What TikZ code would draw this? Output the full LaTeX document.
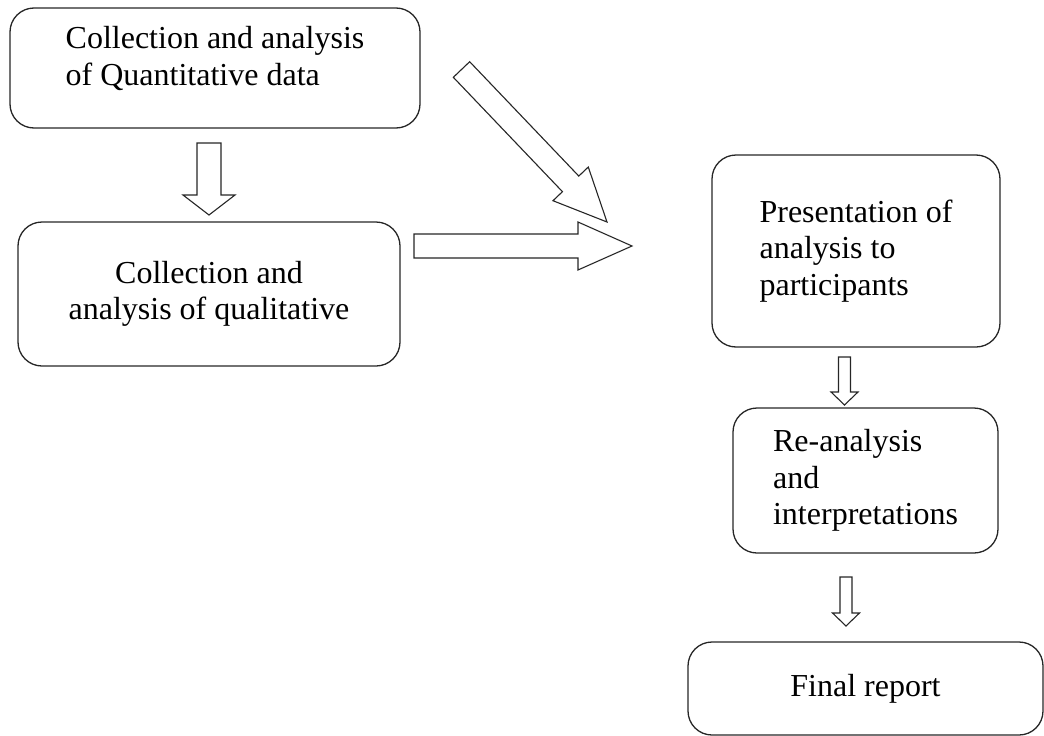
\documentclass[tikz,border=0pt]{standalone}
\usepackage{fontspec}
\setmainfont{Liberation Serif}
\usetikzlibrary{calc}

% block arrow: tail, tip, shaft half width, head half width, head length
\newcommand{\fatarrow}[5]{%
  \coordinate (hb) at ($(#2)!#5!(#1)$);
  \draw[block arrow] ($(#1)!#3!90:(#2)$) -- ($(hb)!#3!90:(#2)$)
    -- ($(hb)!#4!90:(#2)$) -- (#2) -- ($(hb)!#4!-90:(#2)$)
    -- ($(hb)!#3!-90:(#2)$) -- ($(#1)!#3!-90:(#2)$) -- cycle;
}

\begin{document}
\begin{tikzpicture}[x=1pt,y=-1pt,
	box/.style={draw=black!85,line width=1.3pt,rounded corners=24pt,
		font=\fontsize{32}{36.5}\selectfont,inner sep=0pt},
	block arrow/.style={draw=black!85,line width=1.1pt,fill=white,line join=miter}]
	
	\useasboundingbox (0,0) rectangle (1044,736);
	
	\node[box,minimum width=410,minimum height=120,align=left,text depth=24pt]
		(quant) at (215,68) {Collection and analysis\\of Quantitative data};
	\node[box,minimum width=382,minimum height=144,align=center]
		(qual) at (209,294) {Collection and\\analysis of qualitative};
	\node[box,minimum width=288,minimum height=192,align=left]
		(present) at (856,251) {Presentation of\\analysis to\\participants};
	\node[box,minimum width=265,minimum height=145,align=left]
		(reanal) at (865.5,480.5) {Re-analysis\\and\\interpretations};
	\node[box,minimum width=355,minimum height=93]
		(final) at (865.5,688.5) {Final report};
	
	% arrow ends
	\coordinate (a1) at (209,143);  \coordinate (b1) at (209,215);
	\coordinate (a2) at (414,246);  \coordinate (b2) at (632,246);
	\coordinate (a3) at (461.5,69.5); \coordinate (b3) at (607,222);
	\coordinate (a4) at (844.5,357); \coordinate (b4) at (844.5,405);
	\coordinate (a5) at (846,577);  \coordinate (b5) at (846,626);
	
	\fatarrow{a1}{b1}{12pt}{26pt}{20pt}
	\fatarrow{a2}{b2}{12pt}{24pt}{54pt}
	\fatarrow{a3}{b3}{11.3pt}{24.4pt}{52.7pt}
	\fatarrow{a4}{b4}{6pt}{13.5pt}{13pt}
	\fatarrow{a5}{b5}{6pt}{13.5pt}{13pt}
\end{tikzpicture}
\end{document}
